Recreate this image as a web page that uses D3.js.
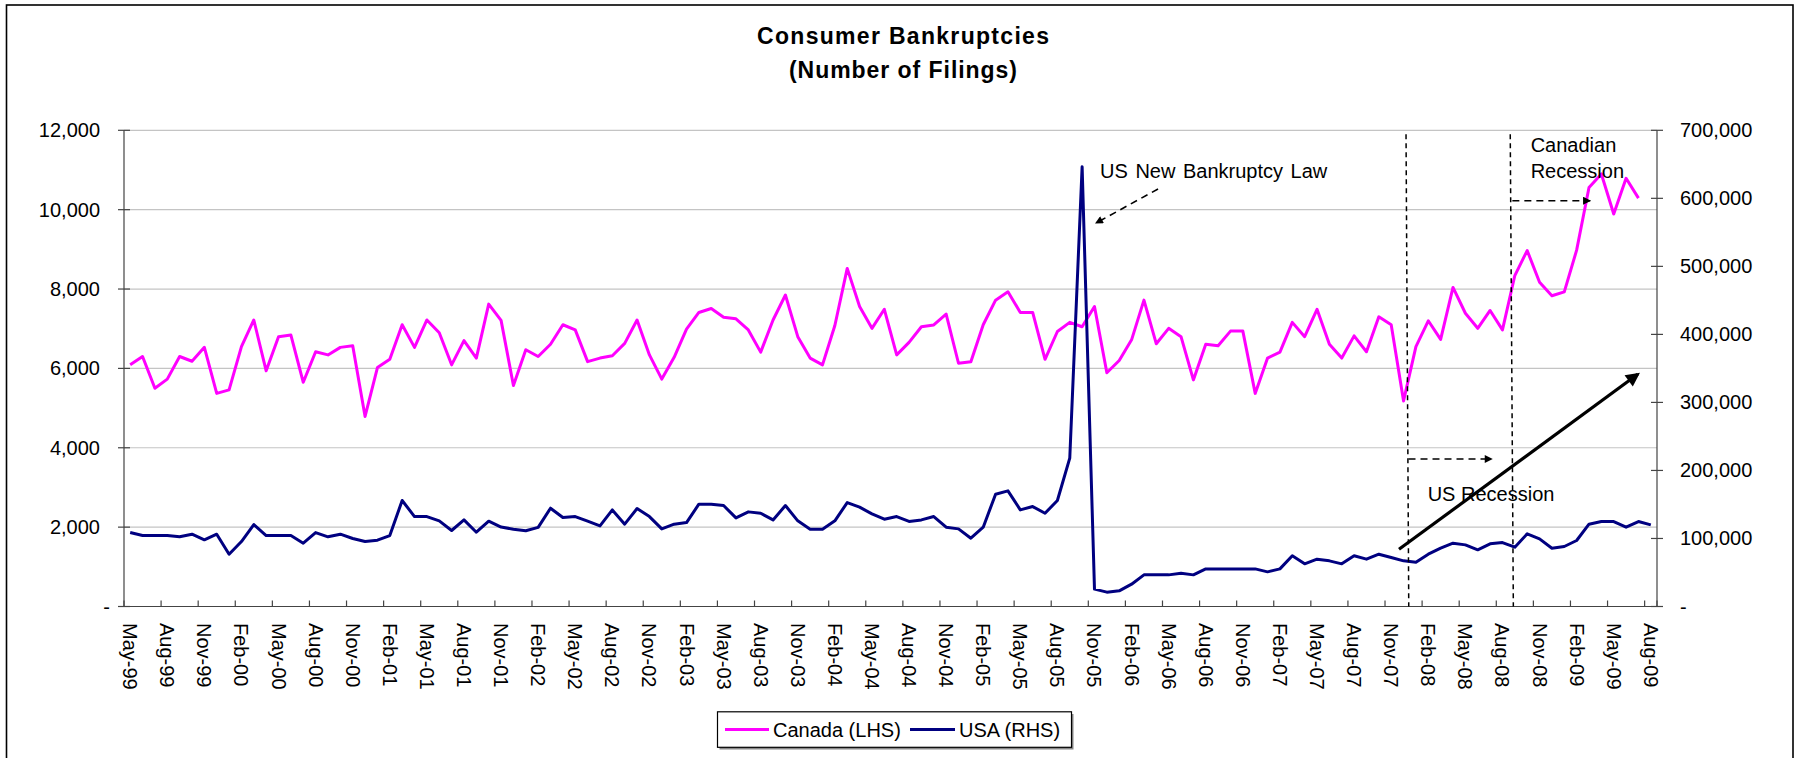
<!DOCTYPE html>
<html>
<head>
<meta charset="utf-8">
<script src="https://cdn.jsdelivr.net/npm/d3@7"></script>
<style>
  html, body { margin: 0; padding: 0; background: #fff; }
  svg { display: block; font-family: Arial, "Liberation Sans", sans-serif; }
</style>
</head>
<body>
<svg id="chart" width="1795" height="758"></svg>
<script>
// Monthly categories, May 1999 through August 2009
const months = d3.timeMonth.range(new Date(1999, 4, 1), new Date(2009, 8, 1)).map(d3.timeFormat("%b-%y"));

// Labels shown on the category axis (every third month)
const tickLabels = ["May-99","Aug-99","Nov-99","Feb-00","May-00","Aug-00","Nov-00","Feb-01","May-01","Aug-01",
  "Nov-01","Feb-02","May-02","Aug-02","Nov-02","Feb-03","May-03","Aug-03","Nov-03","Feb-04","May-04","Aug-04",
  "Nov-04","Feb-05","May-05","Aug-05","Nov-05","Feb-06","May-06","Aug-06","Nov-06","Feb-07","May-07","Aug-07",
  "Nov-07","Feb-08","May-08","Aug-08","Nov-08","Feb-09","May-09","Aug-09"];

// Canadian consumer bankruptcies (left axis), May-99 .. Jul-09
const canada = [6090,6300,5500,5730,6300,6180,6530,5370,5460,6550,7220,5940,6800,6840,5650,6420,6340,6530,6570,4790,
  6020,6230,7100,6530,7220,6900,6090,6700,6260,7620,7210,5570,6470,6300,6610,7100,6970,6170,6260,6320,
  6630,7220,6340,5730,6280,6990,7410,7510,7290,7250,6970,6410,7220,7850,6800,6260,6090,7080,8520,7560,
  7010,7490,6340,6655,7050,7095,7370,6130,6170,7100,7720,7930,7410,7410,6230,6930,7160,7050,7560,5890,
  6200,6720,7720,6620,7010,6800,5710,6610,6570,6940,6940,5370,6260,6410,7160,6800,7490,6610,6260,6820,
  6420,7300,7100,5180,6550,7200,6730,8040,7390,7010,7460,6970,8340,8970,8170,7830,7930,8980,10560,10900,
  9890,10790,10290];

// US consumer bankruptcies (right axis), May-99 .. Aug-09
const usa = [108700,104300,104300,104300,102400,106300,98000,106300,76900,95500,120500,104300,104300,104300,93100,108700,
  102400,106300,99900,95500,97500,104300,155800,132200,132200,125900,111700,127300,109200,125400,116800,113600,
  111400,116300,144500,130800,132200,125400,118500,142000,121000,144000,132200,114100,121000,123400,150400,150400,
  148400,130300,139100,137100,127300,148400,125900,113600,113600,125900,152800,146000,136200,128300,132200,125100,
  127300,132200,116600,114100,100400,116600,165100,170000,142000,146900,137100,155800,218000,646500,25500,21100,
  23000,32800,46500,46500,46500,49000,46500,55300,55300,55300,55300,55300,50900,55300,74500,62700,69600,67100,
  62700,74500,69600,76900,72000,67100,65100,76900,85700,93100,90600,83300,92100,94000,87200,106800,99400,85700,
  88200,97000,121000,124900,124900,116600,124900,120000];

const leftTicks = [0, 2000, 4000, 6000, 8000, 10000, 12000];
const rightTicks = [0, 100000, 200000, 300000, 400000, 500000, 600000, 700000];

const svg = d3.select("#chart");
const W = 1795, H = 758;
const plot = { left: 124, right: 1657, top: 130.3, bottom: 606.5 };

// Outer chart frame
svg.append("rect").attr("x", 6.5).attr("y", 5).attr("width", 1786.5).attr("height", 800)
  .attr("fill", "#fff").attr("stroke", "#000").attr("stroke-width", 1.6);

const x = d3.scaleBand().domain(months).range([plot.left, plot.right]).paddingInner(0).paddingOuter(0);
const bw = x.bandwidth();
const idx = d3.scaleLinear().domain([0, months.length]).range([plot.left, plot.right]);
const xc = i => idx(i + 0.5);
const yL = d3.scaleLinear().domain([0, 12000]).range([plot.bottom, plot.top]);
const yR = d3.scaleLinear().domain([0, 700000]).range([plot.bottom, plot.top]);
const fmt = d3.format(",");
const lab = v => v === 0 ? "-" : fmt(v);

// Horizontal gridlines (left axis)
svg.append("g").selectAll("line").data(leftTicks.filter(v => v > 0)).join("line")
  .attr("x1", plot.left).attr("x2", plot.right)
  .attr("y1", d => yL(d)).attr("y2", d => yL(d))
  .attr("stroke", "#c4c4c4").attr("stroke-width", 1.2);

// Title
const title = svg.append("g").attr("font-weight", "bold").attr("font-size", 23).attr("text-anchor", "middle");
title.append("text").attr("x", 903).attr("y", 43.5).attr("textLength", 292).attr("lengthAdjust", "spacing").text("Consumer Bankruptcies");
title.append("text").attr("x", 903).attr("y", 77.5).attr("textLength", 228).attr("lengthAdjust", "spacing").text("(Number of Filings)");

// Left axis
const gl = svg.append("g");
gl.append("line").attr("x1", plot.left).attr("x2", plot.left).attr("y1", plot.top).attr("y2", plot.bottom)
  .attr("stroke", "#444").attr("stroke-width", 1.2);
gl.selectAll("line.t").data(leftTicks).join("line").attr("class", "t")
  .attr("x1", plot.left - 6).attr("x2", plot.left + 6)
  .attr("y1", d => yL(d)).attr("y2", d => yL(d)).attr("stroke", "#444").attr("stroke-width", 1.2);
gl.selectAll("text").data(leftTicks).join("text")
  .attr("x", d => d === 0 ? 110 : 100).attr("y", d => yL(d)).attr("dy", "0.35em")
  .attr("text-anchor", "end").attr("font-size", 20).text(lab);

// Right axis
const gr = svg.append("g");
gr.append("line").attr("x1", plot.right).attr("x2", plot.right).attr("y1", plot.top).attr("y2", plot.bottom)
  .attr("stroke", "#444").attr("stroke-width", 1.2);
gr.selectAll("line.t").data(rightTicks).join("line").attr("class", "t")
  .attr("x1", plot.right - 6).attr("x2", plot.right + 6)
  .attr("y1", d => yR(d)).attr("y2", d => yR(d)).attr("stroke", "#444").attr("stroke-width", 1.2);
gr.selectAll("text").data(rightTicks).join("text")
  .attr("x", 1680).attr("y", d => yR(d)).attr("dy", "0.35em")
  .attr("text-anchor", "start").attr("font-size", 20).text(lab);

// Category axis
const gx = svg.append("g");
gx.append("line").attr("x1", plot.left).attr("x2", plot.right).attr("y1", plot.bottom).attr("y2", plot.bottom)
  .attr("stroke", "#444").attr("stroke-width", 1.2);
const tickPos = tickLabels.map(m => x(m)).concat([plot.right]);
gx.selectAll("line.t").data(tickPos).join("line").attr("class", "t")
  .attr("x1", d => d).attr("x2", d => d).attr("y1", plot.bottom - 6).attr("y2", plot.bottom)
  .attr("stroke", "#444").attr("stroke-width", 1.2);
gx.selectAll("text").data(tickLabels).join("text")
  .attr("transform", d => `translate(${x(d) + bw / 2},623) rotate(90)`)
  .attr("dy", "0.35em").attr("text-anchor", "start").attr("font-size", 20).text(d => d);

// Series lines
const lineL = d3.line().x((d, i) => x(months[i]) + bw / 2).y(d => yL(d));
const lineR = d3.line().x((d, i) => x(months[i]) + bw / 2).y(d => yR(d));
svg.append("path").datum(canada).attr("d", lineL).attr("fill", "none")
  .attr("stroke", "#ff00ff").attr("stroke-width", 3).attr("stroke-linejoin", "round");
svg.append("path").datum(usa).attr("d", lineR).attr("fill", "none")
  .attr("stroke", "#000080").attr("stroke-width", 3).attr("stroke-linejoin", "round");

// Annotations
const defs = svg.append("defs");
defs.append("marker").attr("id", "tri").attr("viewBox", "0 0 10 10").attr("refX", 9).attr("refY", 5)
  .attr("markerWidth", 9).attr("markerHeight", 8).attr("markerUnits", "userSpaceOnUse").attr("orient", "auto")
  .append("path").attr("d", "M0,0L10,5L0,10Z").attr("fill", "#000");
defs.append("marker").attr("id", "bigtri").attr("viewBox", "0 0 10 10").attr("refX", 8).attr("refY", 5)
  .attr("markerWidth", 16).attr("markerHeight", 14).attr("markerUnits", "userSpaceOnUse").attr("orient", "auto")
  .append("path").attr("d", "M0,0L10,5L0,10Z").attr("fill", "#000");

const ann = svg.append("g").attr("font-size", 20).attr("fill", "#000");

// US New Bankruptcy Law
ann.append("text").attr("x", xc(78.45)).attr("y", yL(10800)).attr("word-spacing", 2).text("US New Bankruptcy Law");
ann.append("line").attr("x1", xc(83.14)).attr("y1", yL(10520)).attr("x2", xc(78.1)).attr("y2", yL(9660))
  .attr("stroke", "#000").attr("stroke-width", 1.6).attr("stroke-dasharray", "7,5").attr("marker-end", "url(#tri)");

// Recession markers
[[103.2, 103.42], [111.63, 111.88]].forEach(([a, b]) => {
  ann.append("line").attr("x1", xc(a)).attr("y1", yL(11900)).attr("x2", xc(b)).attr("y2", yL(0))
    .attr("stroke", "#000").attr("stroke-width", 1.5).attr("stroke-dasharray", "5,4");
});
ann.append("line").attr("x1", xc(111.8)).attr("x2", xc(118.1)).attr("y1", yL(10226)).attr("y2", yL(10226))
  .attr("stroke", "#000").attr("stroke-width", 1.6).attr("stroke-dasharray", "7,5").attr("marker-end", "url(#tri)");
ann.append("line").attr("x1", xc(103.4)).attr("x2", xc(110.15)).attr("y1", yL(3717)).attr("y2", yL(3717))
  .attr("stroke", "#000").attr("stroke-width", 1.6).attr("stroke-dasharray", "7,5").attr("marker-end", "url(#tri)");
const canTxt = ann.append("text").attr("x", xc(113.28)).attr("y", yL(11460));
canTxt.append("tspan").attr("x", xc(113.28)).text("Canadian");
canTxt.append("tspan").attr("x", xc(113.28)).attr("dy", 26.6).text("Recession");
ann.append("text").attr("x", xc(104.95)).attr("y", yL(2666)).text("US Recession");

// Rising trend arrow
ann.append("line").attr("x1", xc(102.63)).attr("y1", yL(1441)).attr("x2", xc(121.94)).attr("y2", yL(5851))
  .attr("stroke", "#000").attr("stroke-width", 3.2).attr("marker-end", "url(#bigtri)");

// Legend
const lg = svg.append("g");
lg.append("rect").attr("x", 719.5).attr("y", 714).attr("width", 354).attr("height", 35.5).attr("fill", "#888");
lg.append("rect").attr("x", 717.5).attr("y", 711.8).attr("width", 354).attr("height", 35.5)
  .attr("fill", "#fff").attr("stroke", "#000").attr("stroke-width", 1.2);
const items = [
  { label: "Canada (LHS)", color: "#ff00ff", x1: 725, x2: 769, tx: 773 },
  { label: "USA (RHS)", color: "#000080", x1: 910, x2: 955, tx: 959 }
];
items.forEach(it => {
  lg.append("line").attr("x1", it.x1).attr("x2", it.x2).attr("y1", 729.5).attr("y2", 729.5)
    .attr("stroke", it.color).attr("stroke-width", 3);
  lg.append("text").attr("x", it.tx).attr("y", 729.5).attr("dy", "0.35em").attr("font-size", 20).text(it.label);
});
</script>
</body>
</html>
